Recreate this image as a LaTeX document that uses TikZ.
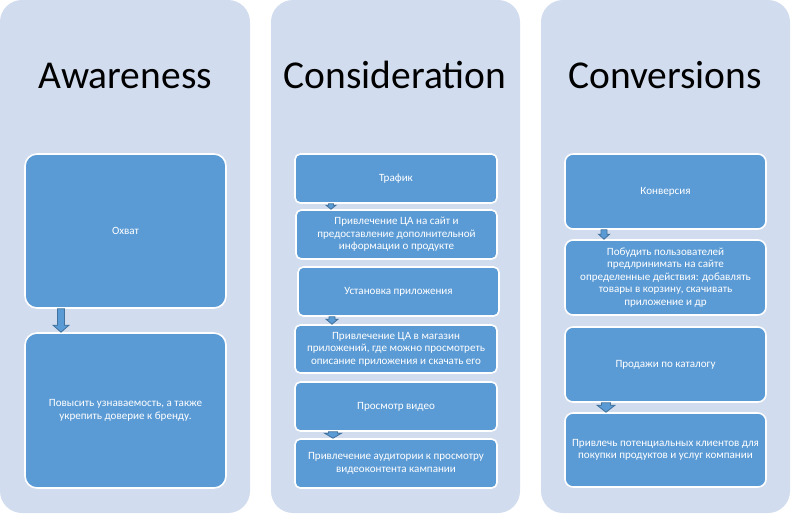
\documentclass[tikz,border=0pt]{standalone}
\usepackage{fontspec}
\setmainfont{Carlito}
\usetikzlibrary{calc}
\definecolor{colbg}{RGB}{209,220,238}
\definecolor{boxfill}{RGB}{91,155,213}
\definecolor{arrowline}{RGB}{65,113,156}
\newcommand\stagebox[7]{\node[stagebox, rounded corners=#6, minimum width={(#4-#2)*0.75pt}, minimum height={(#5-#3)*0.75pt}] (#1) at ({(#2+#4)/2},{(#3+#5)/2}) {#7};}
\newcommand\blockarrow[6]{%
\draw[barrow] ($(#3,0 |- #1.south)+(-#4,0)$) -- ($(#3,0 |- #1.south)+(#4,0)$) -- ($(#3,0 |- #2.north)+(#4,-#6)$) -- ($(#3,0 |- #2.north)+(#5,-#6)$) -- (#3,0 |- #2.north) -- ($(#3,0 |- #2.north)+(-#5,-#6)$) -- ($(#3,0 |- #2.north)+(-#4,-#6)$) -- cycle;}
\begin{document}
\begin{tikzpicture}[x=0.75pt,y=-0.75pt,
 colbox/.style={fill=colbg, rounded corners=16.5pt},
 titletext/.style={font=\fontsize{29.6}{34}\selectfont, text=black, anchor=base, inner sep=0pt},
 stagebox/.style={draw=white, line width=1.2pt, fill=boxfill, text=white, align=center, font=\fontsize{8.3}{9.4}\selectfont, inner sep=0pt},
 barrow/.style={draw=arrowline, fill=boxfill, line width=0.6pt, line join=miter}]
\useasboundingbox (0,0) rectangle (791,514);
% column backgrounds
\fill[colbox] (0,0) rectangle (250,513);
\fill[colbox] (271,0) rectangle (520,513);
\fill[colbox] (541,0) rectangle (790,513);
% titles
\node[titletext] (t1) at (125,88) {Awareness};
\node[titletext] (t2) at (395,88) {Consideration};
\node[titletext] (t3) at (665,88) {Conversions};
% column 1
\stagebox{a1}{25}{154}{226}{308}{9pt}{Охват}
\stagebox{a2}{25}{333}{226}{488}{9pt}{Повысить узнаваемость, а также\\укрепить доверие к бренду.}
% column 2
\stagebox{c1}{295}{154}{497}{203}{4pt}{Трафик}
\stagebox{c2}{296}{210}{497}{259}{4pt}{Привлечение ЦА на сайт и\\предоставление дополнительной\\информации о продукте}
\stagebox{c3}{298}{267}{499}{316}{4pt}{Установка приложения}
\stagebox{c4}{295}{325}{497}{373}{4pt}{Привлечение ЦА в магазин\\приложений, где можно просмотреть\\описание приложения и скачать его}
\stagebox{c5}{295}{382}{497}{431}{4pt}{Просмотр видео}
\stagebox{c6}{295}{439}{497}{488}{4pt}{Привлечение аудитории к просмотру\\видеоконтента кампании}
% column 3
\stagebox{v1}{565}{154}{766}{229}{6pt}{Конверсия}
\stagebox{v2}{565}{240}{766}{315}{6pt}{Побудить пользователей\\предлринимать на сайте\\определенные действия: добавлять\\товары в корзину, скачивать\\приложение и др}
\stagebox{v3}{565}{327}{766}{402}{6pt}{Продажи по каталогу}
\stagebox{v4}{565}{413}{766}{487}{6pt}{Привлечь потенциальных клиентов для\\покупки продуктов и услуг компании}
% arrows
\blockarrow{a1}{a2}{61}{3.5}{8}{7}
\blockarrow{c1}{c2}{331}{2.5}{5}{4}
\blockarrow{c3}{c4}{332}{3}{6}{5}
\blockarrow{c5}{c6}{333}{4.5}{8.5}{5}
\blockarrow{v1}{v2}{604}{3}{5.5}{5}
\blockarrow{v3}{v4}{606}{4.5}{9}{7}
\end{tikzpicture}
\end{document}
